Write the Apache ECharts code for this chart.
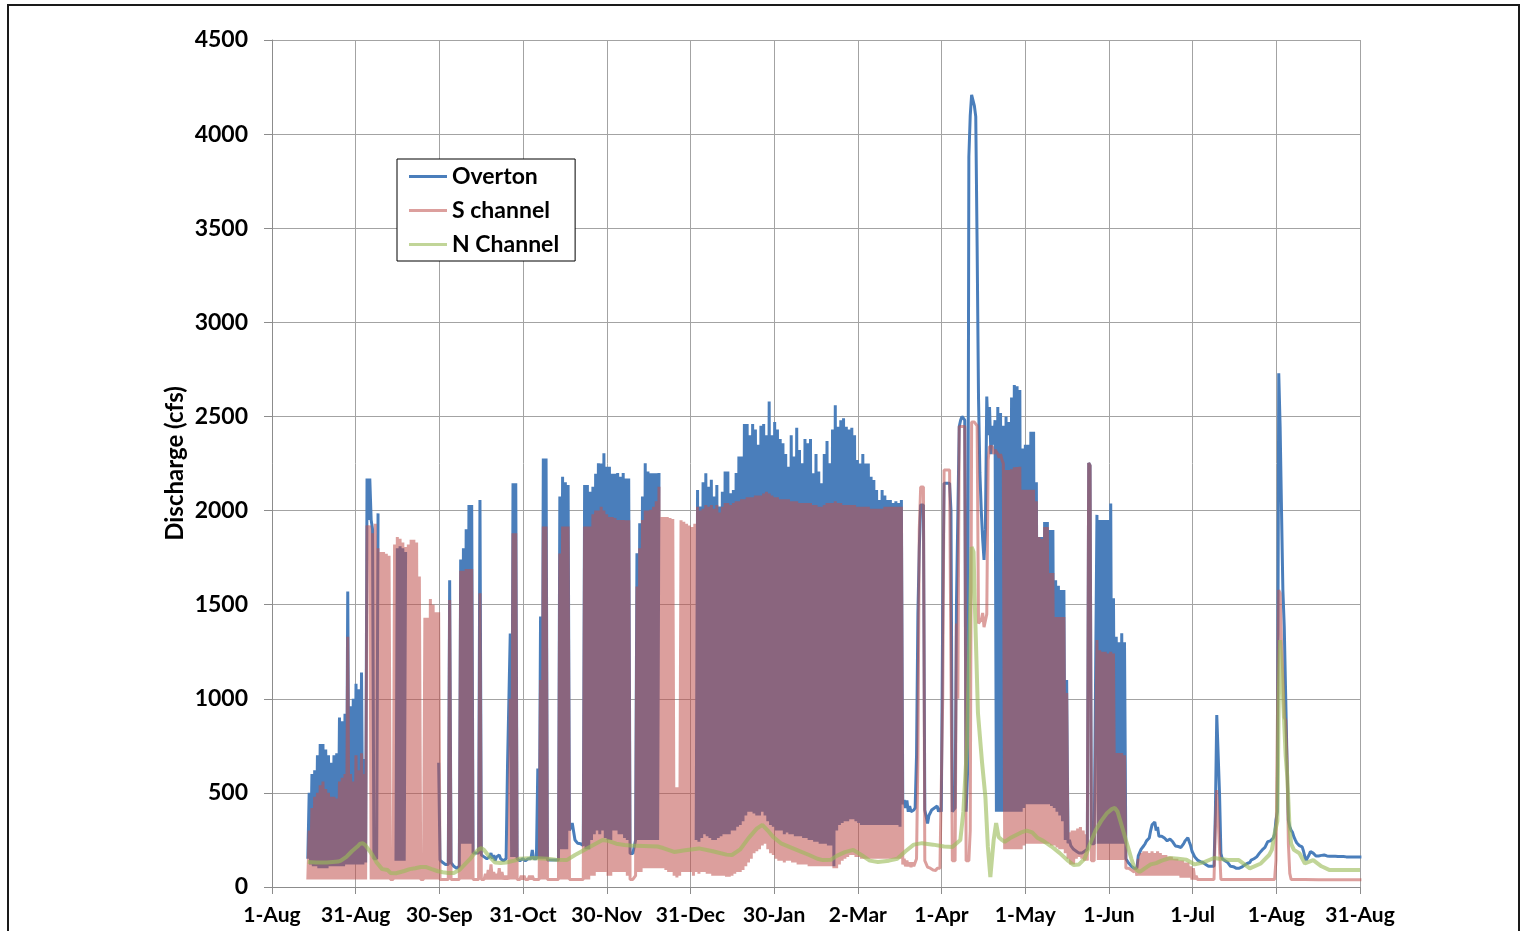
<!DOCTYPE html>
<html><head><meta charset="utf-8">
<script src="https://cdn.jsdelivr.net/npm/echarts@6/dist/echarts.min.js"></script>
<style>html,body{margin:0;padding:0;background:#fff}#c{width:1522px;height:931px}</style>
</head><body><div id="c"></div>
<script>
// x axis: days since 1-Aug; 13 equal tick intervals labelled as in the source chart
const tickLabels = ['1-Aug','31-Aug','30-Sep','31-Oct','30-Nov','31-Dec','30-Jan','2-Mar','1-Apr','1-May','1-Jun','1-Jul','1-Aug','31-Aug'];
const SPAN = 395;
const yTicks = [0,500,1000,1500,2000,2500,3000,3500,4000,4500];

// [day, value at start of day, value half a day later] (cfs)
const overton = [
[13,150,500],[14,120,600],[15,110,620],[16,110,700],[17,100,760],[18,100,760],[19,100,730],[20,100,700],[21,110,660],[22,110,700],
[23,110,710],[24,110,900],[25,110,880],[26,110,920],[27,120,1570],[28,120,960],[29,120,1000],[30,120,1080],[31,120,1050],[32,120,1140],
[33,120,680],[34,130,2170],[35,1950,2170],[36,1950,1900],[37,150,150],[38,150,1985],[39,null,null],
[45,140,1800],[46,140,1810],[47,140,1800],[48,140,1780],[49,null,null],
[60,null,660],[61,143,140],[62,130,130],[63,120,120],[64,120,1630],[65,130,130],[66,110,110],[67,100,100],[68,110,1740],[69,230,1800],
[70,230,1900],[71,230,2030],[72,230,2030],[73,180,180],[74,180,180],[75,180,2056],[76,170,170],[77,160,170],[78,150,160],[79,160,180],
[80,150,170],[81,140,160],[82,150,170],[83,150,160],[84,140,150],[85,150,640],[86,640,1347],[87,160,2145],[88,160,2145],[89,150,150],
[90,140,150],[91,150,160],[92,140,150],[93,150,160],[94,150,196],[95,150,160],[96,150,630],[97,150,1437],[98,150,2277],[99,150,2277],
[100,143,143],[101,143,143],[102,143,143],[103,143,143],[104,143,2074],[105,200,2180],[106,200,2150],[107,200,2136],[108,300,300],[109,340,340],
[110,250,250],[111,232,232],[112,230,230],[113,220,2136],[114,200,2136],[115,200,2100],[116,250,2127],[117,280,2195],[118,300,2251],[119,280,2250],
[120,300,2304],[121,260,2233],[122,250,2233],[123,250,2195],[124,300,2195],[125,300,2200],[126,280,2180],[127,280,2200],[128,260,2170],[129,250,2170],
[130,178,178],[131,178,178],[132,250,1773],[133,250,1933],[134,250,2074],[135,250,2251],[136,250,2207],[137,250,2198],[138,250,2198],[139,250,2198],
[140,250,2200],[141,null,null],
[154,250,2109],[155,240,2021],[156,260,2150],[157,280,2198],[158,270,2127],[159,260,2163],
[160,250,2074],[161,250,2136],[162,260,2021],[163,270,2100],[164,280,2207],[165,280,2207],[166,280,2092],[167,300,2109],[168,300,2200],[169,320,2287],
[170,330,2287],[171,350,2460],[172,380,2460],[173,400,2400],[174,400,2460],[175,390,2430],[176,380,2350],[177,380,2450],[178,400,2460],[179,380,2400],
[180,350,2580],[181,330,2400],[182,320,2470],[183,300,2430],[184,300,2380],[185,300,2357],[186,280,2300],[187,290,2233],[188,280,2400],[189,280,2287],
[190,270,2440],[191,270,2322],[192,270,2251],[193,260,2380],[194,260,2357],[195,250,2380],[196,250,2198],[197,240,2300],[198,240,2207],[199,230,2145],
[200,230,2300],[201,230,2370],[202,220,2251],[203,220,2430],[204,110,2560],[205,300,2445],[206,330,2480],[207,340,2490],[208,350,2445],[209,350,2430],
[210,360,2440],[211,360,2400],[212,350,2268],[213,340,2250],[214,330,2300],[215,330,2250],[216,330,2250],[217,330,2180],[218,330,2162],[219,330,2109],
[220,330,2056],[221,330,2109],[222,330,2080],[223,330,2056],[224,330,2056],[225,330,2040],[226,330,2050],[227,330,2040],[228,320,2056],[229,440,462],
[230,420,460],[231,400,430],[232,400,410],[233,409,420],[234,700,1456],[235,1800,2030],[236,2020,2030],[237,409,409],[238,338,380],[239,380,409],
[240,409,420],[241,426,430],[242,400,420],[243,400,1472],[244,2145,2145],[245,2145,2145],[246,2145,2000],[247,400,400],[248,420,1509],[249,1509,2446],
[250,2480,2500],[251,2500,2480],[252,400,600],[253,3880,4100],[254,4208,4208],[255,4150,4093],[256,3400,2600],[257,2200,2000],[258,1850,1738],[259,1900,2606],
[260,2400,2550],[261,2300,2450],[262,2350,2480],[263,400,2550],[264,400,2518],[265,400,2450],[266,400,2500],[267,400,2470],[268,400,2600],[269,400,2667],
[270,400,2660],[271,400,2640],[272,400,2330],[273,420,2349],[274,440,2349],[275,440,2418],[276,440,2418],[277,440,2150],[278,440,1860],[279,440,1860],
[280,440,1939],[281,440,1939],[282,440,1897],[283,430,1897],[284,420,1630],[285,400,1600],[286,380,1578],[287,350,1578],[288,250,1100],[289,233,250],
[290,220,230],[291,200,210],[292,190,200],[293,180,190],[294,180,190],[295,190,200],[296,200,2253],[297,2240,230],[298,230,230],[299,230,1977],
[300,230,1950],[301,230,1950],[302,230,1950],[303,230,1950],[304,230,2037],[305,230,1534],[306,230,1330],[307,230,1300],[308,230,1348],[309,230,1300],
[310,150,150],[311,127,127],[312,110,110],[313,100,110],[314,100,165],[315,165,200],[316,210,219],[317,230,245],[318,245,260],[319,300,330],
[320,320,345],[321,300,319],[322,270,262],[323,270,280],[324,260,270],[325,245,250],[326,255,262],[327,240,230],[328,218,220],[329,215,210],
[330,210,220],[331,230,245],[332,250,262],[333,240,220],[334,190,180],[335,160,150],[336,143,140],[337,135,134],[338,130,127],[339,120,115],
[340,110,110],[341,110,110],[342,110,400],[343,914,905],[344,497,179],[345,150,143],[346,140,140],[347,130,120],[348,110,108],[349,108,105],
[350,100,99],[351,99,100],[352,105,110],[353,115,125],[354,125,130],[355,130,143],[356,143,150],[357,150,160],[358,165,180],[359,190,197],
[360,200,210],[361,220,241],[362,240,245],[363,250,260],[364,280,356],[365,400,2729],[366,2445,2003],[367,1578,1381],[368,1027,673],[369,354,320],
[370,301,290],[371,266,250],[372,235,230],[373,220,215],[374,213,190],[375,160,143],[376,150,170],[377,188,185],[378,180,170],[379,165,161],
[380,165,165],[381,168,170],[382,170,168],[383,165,165],[384,163,163],[385,163,163],[386,163,163],[387,162,162],[388,162,162],[389,162,162],
[390,160,160],[391,160,160],[392,160,160],[393,160,160],[394,160,160],[395,160,160]
];

const sChannel = [
[13,40,300],[14,40,420],[15,40,480],[16,40,500],[17,40,540],[18,40,560],[19,40,520],[20,40,500],[21,40,480],[22,40,480],
[23,40,470],[24,40,560],[25,40,580],[26,40,600],[27,40,1330],[28,40,600],[29,40,560],[30,40,700],[31,40,620],[32,40,710],
[33,40,600],[34,40,1920],[35,1880,1920],[36,40,1880],[37,40,1930],[38,40,1800],[39,40,1780],[40,40,1780],[41,40,1770],[42,40,1760],
[43,40,40],[44,40,1820],[45,40,1860],[46,40,1850],[47,40,1830],[48,40,1806],[49,40,1820],[50,40,1845],[51,40,1845],[52,40,1830],
[53,40,1650],[54,40,40],[55,40,1430],[56,40,1430],[57,40,1530],[58,40,1500],[59,40,1460],[60,40,1460],[61,40,40],[62,40,40],
[63,40,40],[64,40,1525],[65,40,40],[66,40,40],[67,40,40],[68,40,1680],[69,40,1680],[70,40,1690],[71,40,1690],[72,40,1690],
[73,40,40],[74,40,40],[75,40,1560],[76,40,40],[77,40,70],[78,40,90],[79,40,120],[80,40,80],[81,40,70],[82,40,100],
[83,40,80],[84,40,60],[85,40,60],[86,40,1000],[87,40,1880],[88,40,1880],[89,40,40],[90,40,60],[91,40,60],[92,40,50],
[93,40,60],[94,40,60],[95,40,50],[96,40,40],[97,40,1100],[98,40,1915],[99,40,1915],[100,40,40],[101,40,40],[102,40,40],
[103,40,40],[104,40,1772],[105,40,1915],[106,40,1915],[107,40,1915],[108,40,40],[109,40,40],[110,40,40],[111,40,40],[112,40,40],
[113,40,1915],[114,40,1915],[115,40,1915],[116,60,1980],[117,60,2000],[118,80,2000],[119,80,2020],[120,80,2000],[121,80,1980],[122,60,1966],
[123,60,1966],[124,80,1960],[125,80,1950],[126,80,1950],[127,80,1950],[128,80,1948],[129,60,1948],[130,40,40],[131,40,40],[132,60,1597],
[133,80,1800],[134,80,1950],[135,100,2000],[136,100,2000],[137,100,2004],[138,100,2020],[139,100,2050],[140,100,2127],[141,100,1966],[142,100,1966],
[143,90,1966],[144,80,1960],[145,80,1955],[146,60,530],[147,50,530],[148,60,1948],[149,80,1940],[150,80,1930],[151,80,1920],[152,80,1913],
[153,60,1930],[154,80,2020],[155,70,2000],[156,80,2010],[157,80,2030],[158,70,2020],[159,70,2030],[160,60,2010],[161,60,2030],[162,60,1990],
[163,60,2020],[164,60,2040],[165,55,2040],[166,55,2030],[167,60,2040],[168,70,2050],[169,80,2050],[170,80,2060],[171,90,2060],[172,110,2070],
[173,130,2070],[174,150,2070],[175,180,2080],[176,190,2080],[177,200,2080],[178,220,2090],[179,230,2100],[180,200,2090],[181,180,2080],[182,170,2070],
[183,150,2070],[184,140,2060],[185,140,2060],[186,130,2060],[187,140,2060],[188,140,2050],[189,130,2050],[190,130,2050],[191,120,2040],[192,120,2040],
[193,120,2040],[194,120,2040],[195,110,2040],[196,110,2030],[197,110,2030],[198,110,2020],[199,110,2020],[200,110,2030],[201,110,2040],[202,110,2040],
[203,110,2040],[204,100,2050],[205,100,2040],[206,120,2040],[207,140,2030],[208,150,2030],[209,160,2030],[210,170,2030],[211,170,2030],[212,160,2020],
[213,160,2020],[214,150,2020],[215,150,2020],[216,150,2020],[217,150,2010],[218,150,2010],[219,150,2010],[220,150,2010],[221,150,2010],[222,150,2020],
[223,150,2020],[224,150,2020],[225,150,2020],[226,150,2020],[227,150,2020],[228,150,2020],[229,120,150],[230,110,140],[231,110,130],[232,106,130],
[233,110,120],[234,150,700],[235,1900,2125],[236,2125,2125],[237,140,140],[238,106,110],[239,100,110],[240,90,100],[241,88,100],[242,90,100],
[243,90,1000],[244,2216,2216],[245,2216,2216],[246,2216,2216],[247,140,140],[248,140,1400],[249,1000,2446],[250,2446,2446],[251,2446,2446],[252,140,140],
[253,140,300],[254,2470,2470],[255,2470,2470],[256,2450,1400],[257,1400,1420],[258,1456,1381],[259,1380,1450],[260,2268,2340],[261,2340,2340],[262,2300,2322],
[263,2330,2300],[264,2280,2300],[265,2270,2250],[266,200,2216],[267,200,2216],[268,200,2220],[269,200,2230],[270,200,2232],[271,200,2233],[272,200,2110],
[273,220,2110],[274,230,2110],[275,230,2110],[276,230,2110],[277,230,2050],[278,230,1860],[279,230,1850],[280,230,1913],[281,230,1913],[282,230,1668],
[283,220,1668],[284,220,1435],[285,210,1435],[286,200,1435],[287,200,1435],[288,180,1030],[289,150,290],[290,120,300],[291,120,300],[292,150,310],
[293,160,319],[294,150,300],[295,140,280],[296,140,2253],[297,2240,140],[298,140,140],[299,143,1312],[300,143,1258],[301,143,1250],[302,143,1250],
[303,143,1240],[304,143,1250],[305,143,1240],[306,143,712],[307,143,712],[308,143,712],[309,143,700],[310,100,100],[311,100,100],[312,90,100],
[313,80,100],[314,60,150],[315,60,180],[316,60,190],[317,60,190],[318,60,180],[319,60,190],[320,60,180],[321,60,190],[322,60,180],
[323,60,170],[324,60,170],[325,60,160],[326,60,160],[327,60,150],[328,60,150],[329,60,140],[330,50,140],[331,50,130],[332,50,130],
[333,50,110],[334,40,100],[335,40,60],[336,40,40],[337,40,40],[338,40,40],[339,40,40],[340,40,40],[341,40,40],[342,40,317],
[343,515,515],[344,200,40],[345,40,40],[350,40,40],[355,40,40],[360,40,40],[363,40,40],[364,40,143],[365,143,1578],[366,1560,1300],
[367,1117,900],[368,887,675],[369,230,72],[370,40,40],[375,40,40],[380,38,38],[385,38,38],[390,38,38],[395,38,38]
];

// [day, value] (cfs)
const nChannel = [
[13,133],[16,130],[20,130],[24,135],[25,140],[27,160],[29,190],[31,215],[32,230],[33,233],[34,220],[36,180],[38,130],[40,95],[42,90],[43,75],[45,73],
[48,85],[50,95],[52,100],[54,106],[56,106],[58,95],[60,85],[62,78],[64,74],[66,74],[68,90],[70,120],[72,150],[73,170],[75,200],[76,207],[77,197],
[79,160],[81,130],[83,127],[85,130],[88,140],[90,150],[95,154],[100,150],[103,145],[107,143],[110,170],[115,210],[120,250],[122,245],[125,230],
[128,223],[130,220],[135,218],[140,215],[142,207],[146,186],[150,195],[155,205],[160,190],[165,172],[167,170],[170,200],[173,260],[176,310],
[178,330],[180,300],[182,265],[185,230],[190,200],[195,170],[198,150],[200,143],[203,145],[205,165],[208,185],[211,197],[214,170],[217,140],
[220,133],[224,140],[227,150],[230,190],[233,225],[236,233],[240,225],[244,215],[247,213],[249.9,250],[251,400],[252.3,744],[253.5,1500],
[254,1806],[254.7,1780],[255.1,1540],[256.3,924],[257.8,659],[259,478],[259.9,213],[260.8,53],[262,250],[262.9,340],[263.8,266],[265,250],
[266,240],[268,260],[270,275],[272,290],[274,300],[276,290],[278,260],[280,245],[283,215],[286,180],[289,140],[291,117],[293,120],[295,150],
[297,230],[299,300],[301,350],[303,390],[305,415],[306,420],[307,400],[308,350],[309,300],[310,250],[311,200],[312,150],[313,106],[314,90],
[315,80],[316,90],[317,100],[319,120],[321,127],[323,140],[326,154],[329,150],[332,145],[335,120],[338,130],[342,154],[347,143],[351,143],
[355,99],[359,125],[362,170],[363,197],[364,285],[365,350],[365.5,1000],[366,1312],[367,1030],[368,700],[368.6,587],[369.4,321],[370,230],
[371,197],[373,179],[375,125],[378,143],[381,110],[384,90],[395,90]
];

function halfDaily(rows){
  const out=[];
  rows.forEach(r=>{
    out.push([r[0], r[1]==null?'-':r[1]]);
    out.push([r[0]+0.5, r[2]==null?'-':r[2]]);
  });
  return out;
}

const STEP = SPAN/13;
const FONT = 'Lato';
const chart = echarts.init(document.getElementById('c'), null, {renderer:'canvas'});
chart.setOption({
  animation:false,
  backgroundColor:'#ffffff',
  graphic:[{type:'rect', shape:{x:8,y:5,width:1511,height:960}, style:{fill:'none', stroke:'#1a1a1a', lineWidth:2}, z:-1}],
  grid:{left:272, top:40, width:1088, height:847},
  legend:{
    data:['Overton','S channel','N Channel'],
    orient:'vertical', left:397, top:159,
    backgroundColor:'#fff', borderColor:'#000', borderWidth:1,
    padding:[6,16,5,12], itemWidth:38, itemHeight:3, itemGap:11, icon:'rect',
    textStyle:{fontFamily:FONT, fontWeight:'bold', fontSize:23, color:'#000'}
  },
  xAxis:{
    type:'value', min:0, max:SPAN, interval:STEP,
    axisLine:{show:true, lineStyle:{color:'#8c8c8c', width:1}},
    axisTick:{show:true, inside:false, length:7, lineStyle:{color:'#8c8c8c'}},
    splitLine:{show:true, lineStyle:{color:'#a3a3a3', width:1}},
    axisLabel:{margin:18, fontFamily:FONT, fontWeight:'bold', fontSize:21, color:'#000',
      showMinLabel:true, showMaxLabel:true,
      formatter:v=>tickLabels[Math.round(v/STEP)]||''}
  },
  yAxis:{
    type:'value', min:yTicks[0], max:yTicks[yTicks.length-1], interval:yTicks[1]-yTicks[0],
    axisLine:{show:true, lineStyle:{color:'#8c8c8c', width:1}},
    axisTick:{show:true, inside:false, length:8, lineStyle:{color:'#8c8c8c'}},
    splitLine:{show:true, lineStyle:{color:'#a3a3a3', width:1}},
    axisLabel:{margin:24, fontFamily:FONT, fontWeight:'bold', fontSize:23, color:'#000',
      formatter:v=>String(v)},
    name:'Discharge (cfs)', nameLocation:'middle', nameGap:85, nameRotate:90, nameMoveOverlap:false,
    nameTextStyle:{fontFamily:FONT, fontWeight:'bold', fontSize:24, color:'#000'}
  },
  series:[
    {name:'Overton', type:'line', data:halfDaily(overton), symbol:'none', showSymbol:false,
     color:'#4a7ebb', lineStyle:{color:'#4a7ebb', width:3}, z:2},
    {name:'S channel', type:'line', data:halfDaily(sChannel), symbol:'none', showSymbol:false,
     color:'rgba(192,80,77,0.55)', lineStyle:{color:'rgba(192,80,77,0.55)', width:3}, z:3},
    {name:'N Channel', type:'line', data:nChannel, symbol:'none', showSymbol:false,
     color:'rgba(155,187,89,0.62)', lineStyle:{color:'rgba(155,187,89,0.62)', width:4}, z:4}
  ]
});
</script>
</body></html>
